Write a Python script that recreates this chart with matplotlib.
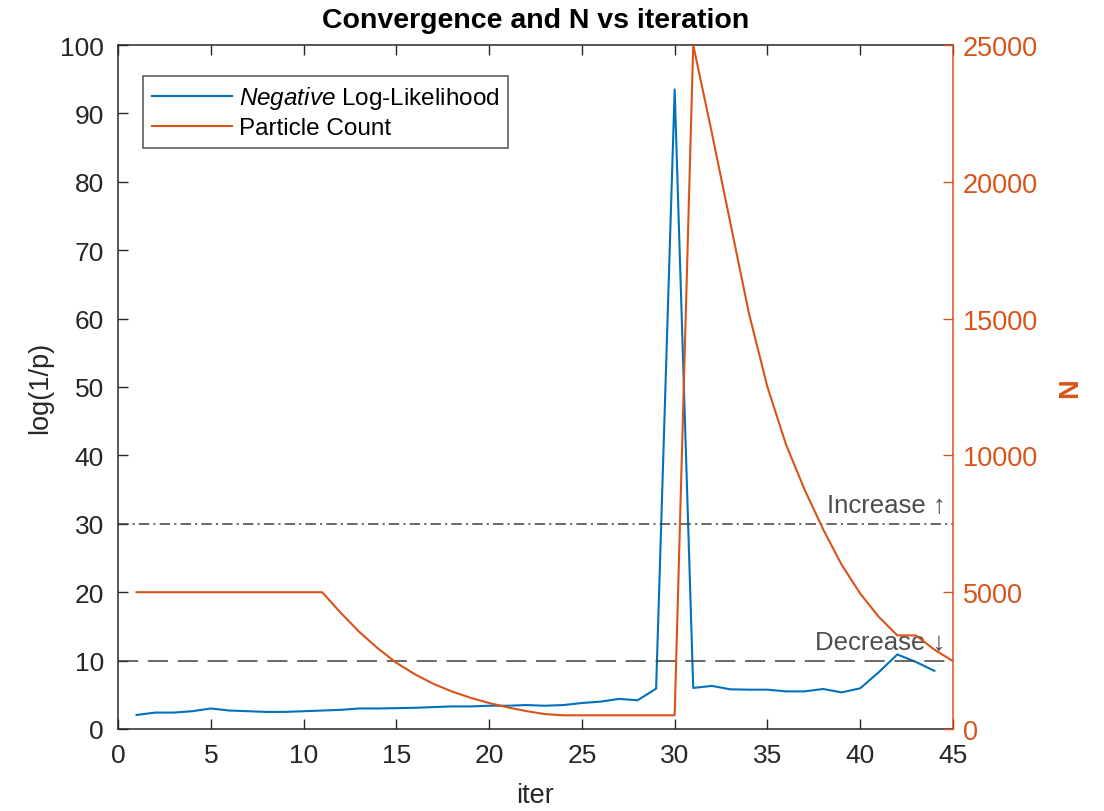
import matplotlib
matplotlib.use("Agg")
import matplotlib.pyplot as plt
from matplotlib.lines import Line2D

plt.rcParams['font.family'] = ['Liberation Sans', 'DejaVu Sans']
plt.rcParams['mathtext.fontset'] = 'custom'
plt.rcParams['mathtext.it'] = 'Liberation Sans:italic'
plt.rcParams['mathtext.rm'] = 'Liberation Sans'
plt.rcParams['lines.scale_dashes'] = False

# Negative log-likelihood per iteration (left axis)
nll_iter = list(range(1, 45))
nll = [2.05, 2.4, 2.4, 2.6, 3.0, 2.7, 2.6, 2.5, 2.5, 2.6,
       2.7, 2.8, 3.0, 3.0, 3.05, 3.1, 3.2, 3.3, 3.3, 3.4,
       3.4, 3.5, 3.4, 3.5, 3.8, 4.0, 4.4, 4.2, 5.9, 93.5,
       6.0, 6.3, 5.8, 5.75, 5.75, 5.5, 5.5, 5.85, 5.35, 5.95,
       8.3, 10.9, 9.8, 8.5]

# Particle count per iteration (right axis)
n_iter = list(range(1, 46))
particles = [5000, 5000, 5000, 5000, 5000, 5000, 5000, 5000, 5000, 5000,
             5000, 4250, 3550, 2950, 2420, 2000, 1650, 1370, 1140, 950,
             790, 655, 545, 500, 500, 500, 500, 500, 500, 500,
             25000, 21800, 18500, 15200, 12500, 10400, 8750, 7300, 6000, 4950,
             4100, 3420, 3420, 2900, 2480]

# Thresholds on the log-likelihood
increase_level = 30
decrease_level = 10

x_ticks = list(range(0, 46, 5))
left_ticks = list(range(0, 101, 10))
right_ticks = list(range(0, 25001, 5000))

blue = (0.0, 0.447, 0.741)
orange = (0.85, 0.325, 0.098)
dark = (0.15, 0.15, 0.15)
grey_line = (0.25, 0.25, 0.25)

fig = plt.figure(figsize=(11.04, 8.12), dpi=100)
ax = fig.add_axes([118 / 1104, 1 - 730 / 812, (953 - 118) / 1104, (730 - 46) / 812])
ax2 = ax.twinx()

tick_fs = 19

# Left axis
ax.plot(nll_iter, nll, color=blue, lw=1.5)
ax.axhline(increase_level, color=grey_line, lw=1.1,
           linestyle=(0, (7.5, 3.0, 1.5, 3.0)))
ax.axhline(decrease_level, color=grey_line, lw=1.1,
           linestyle=(0, (14.5, 7.0)))
ax.text(44.6, increase_level + 1.0, 'Increase \u2191', ha='right', va='bottom',
        fontsize=18.5, color=(0.3, 0.3, 0.3), family=['Liberation Sans', 'DejaVu Sans'])
ax.text(44.6, decrease_level + 1.0, 'Decrease \u2193', ha='right', va='bottom',
        fontsize=18.5, color=(0.3, 0.3, 0.3), family=['Liberation Sans', 'DejaVu Sans'])
ax.set_xlim(0, 45)
ax.set_ylim(0, 100)
ax.set_xticks(x_ticks)
ax.set_yticks(left_ticks)
ax.tick_params(axis='both', direction='in', length=7, width=1.0, colors=dark,
               labelsize=tick_fs, top=True, right=False, pad=10)
ax.set_ylabel('log(1/p)', fontsize=tick_fs + 0.5, color=dark, labelpad=5)
ax.set_xlabel('iter', fontsize=tick_fs + 0.5, color=dark, labelpad=11)
ax.set_title('Convergence and N vs iteration', fontsize=20.5, fontweight='bold',
             color='black', pad=13)
for side in ['left', 'top', 'bottom']:
    ax.spines[side].set_color(dark)
    ax.spines[side].set_linewidth(1.1)
ax.spines['right'].set_visible(False)

# Right axis
ax2.plot(n_iter, particles, color=orange, lw=1.5)
ax2.set_ylim(0, 25000)
ax2.set_yticks(right_ticks)
ax2.tick_params(axis='y', direction='in', length=7, width=1.0, colors=orange,
                labelsize=tick_fs + 0.5, pad=7)
ax2.set_ylabel('N', fontsize=tick_fs + 0.5, color=orange, fontweight='bold', labelpad=14)
for side in ['left', 'top', 'bottom']:
    ax2.spines[side].set_visible(False)
ax2.spines['right'].set_color(orange)
ax2.spines['right'].set_linewidth(1.1)

handles = [Line2D([], [], color=blue, lw=1.5), Line2D([], [], color=orange, lw=1.5)]
labels = [r'$\it{Negative}$ Log-Likelihood', 'Particle Count']
leg = ax2.legend(handles, labels, loc='upper left', bbox_to_anchor=(0.03, 0.955),
                 fontsize=17.5, frameon=True, fancybox=False, handlelength=3.3,
                 handletextpad=0.3, borderpad=0.35, labelspacing=0.25,
                 borderaxespad=0)
leg.get_frame().set_edgecolor(dark)
leg.get_frame().set_linewidth(1.1)

fig.savefig('out.png', dpi=100)
